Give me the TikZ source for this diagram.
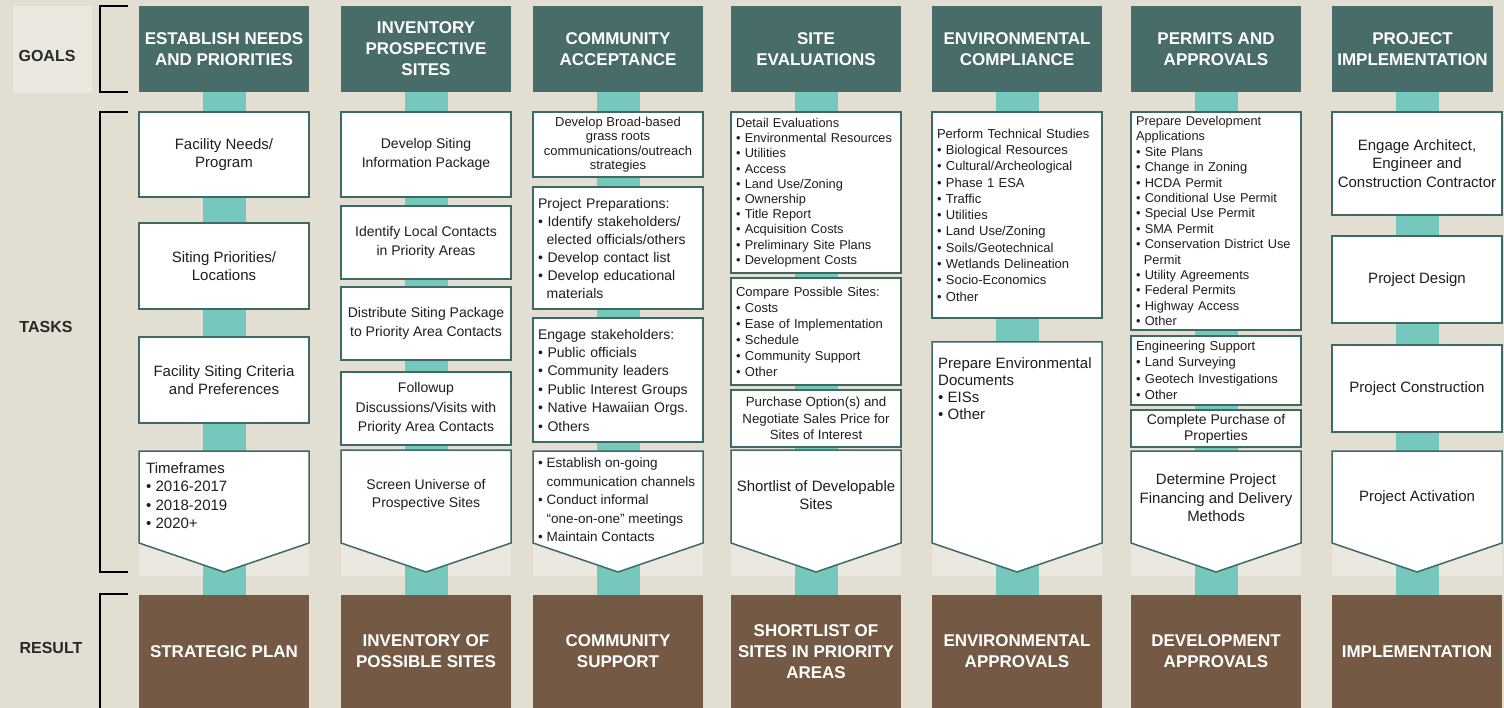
\documentclass[tikz,border=0pt]{standalone}
\usepackage{fontspec}
\setmainfont{Liberation Sans}
\usetikzlibrary{positioning}
\definecolor{goalteal}{RGB}{71,108,105}
\definecolor{boxline}{RGB}{62,106,102}
\definecolor{barteal}{RGB}{118,200,188}
\definecolor{resbrown}{RGB}{116,90,69}
\definecolor{bgbeige}{RGB}{226,222,210}
\definecolor{bglight}{RGB}{234,232,223}
\definecolor{labelgray}{RGB}{40,40,40}
\definecolor{inktext}{RGB}{30,30,30}
\newcommand{\bgap}{\hspace*{0.62em}}
\hyphenpenalty=10000
\exhyphenpenalty=10000
\pgfdeclarelayer{back}
\pgfdeclarelayer{bars}
\pgfsetlayers{back,bars,main}
\tikzset{
  goalbox/.style={fill=goalteal, text=white, minimum width=170pt, minimum height=86pt,
                  align=center, inner sep=2pt, font=\fontsize{17}{21}\selectfont\bfseries},
  resbox/.style={fill=resbrown, text=white, minimum width=170pt, minimum height=113pt,
                 align=center, inner sep=2pt, font=\fontsize{17}{21}\selectfont\bfseries},
  taskbox/.style={draw=boxline, line width=1.5pt, fill=white, minimum width=170pt,
                  align=center, inner xsep=5pt, inner ysep=2pt, text=inktext,
                  font=\fontsize{15}{18}\selectfont},
  listbox/.style={taskbox, align=left, text width=160pt, font=\fontsize{13}{15.4}\selectfont},
  chevbox/.style={draw=boxline, line width=1.5pt, fill=white},
  chevtext/.style={inner sep=0pt, text=inktext, font=\fontsize{15}{18.5}\selectfont},
  bar/.style={draw=barteal, line width=43pt},
  brack/.style={draw=black, line width=2pt},
  rowlabel/.style={font=\fontsize{16}{19}\selectfont\bfseries, text=labelgray},
}
\begin{document}
\begin{tikzpicture}[x=1pt, y=-1pt]
\useasboundingbox (0,0) rectangle (1504,708);

\begin{pgfonlayer}{back}
\fill[bgbeige] (0,0) rectangle (1504,708);
\fill[bglight] (13,6) rectangle (92,93);
\foreach \xl in {139,341,533,731,932,1131,1332}
  \fill[bglight] (\xl,540) rectangle ++(170,36);
\end{pgfonlayer}

% --- Row labels and brackets ---
\node[rowlabel] (lgoals) at (47,56) {GOALS};
\node[rowlabel] (ltasks) at (46,327) {TASKS};
\node[rowlabel] (lresult) at (51,648) {RESULT};
\draw[brack] (128,6) -- (100,6) -- (100,92) -- (128,92);
\draw[brack] (128,112) -- (100,112) -- (100,572) -- (128,572);
\draw[brack] (128,594) -- (100,594) -- (100,708);

% --- Goals ---
\node[goalbox] (goal1) at (224,49) {ESTABLISH NEEDS\\AND PRIORITIES};
\node[goalbox] (goal2) at (426,49) {INVENTORY\\PROSPECTIVE\\SITES};
\node[goalbox] (goal3) at (618,49) {COMMUNITY\\ACCEPTANCE};
\node[goalbox] (goal4) at (816,49) {SITE\\EVALUATIONS};
\node[goalbox] (goal5) at (1017,49) {ENVIRONMENTAL\\COMPLIANCE};
\node[goalbox] (goal6) at (1216,49) {PERMITS AND\\APPROVALS};
\node[goalbox, minimum width=161pt] (goal7) at (1412.5,49) {PROJECT\\IMPLEMENTATION};

% --- Results ---
\node[resbox] (res1) at (224,651.5) {STRATEGIC PLAN};
\node[resbox] (res2) at (426,651.5) {INVENTORY OF\\POSSIBLE SITES};
\node[resbox] (res3) at (618,651.5) {COMMUNITY\\SUPPORT};
\node[resbox] (res4) at (816,651.5) {SHORTLIST OF\\SITES IN PRIORITY\\AREAS};
\node[resbox] (res5) at (1017,651.5) {ENVIRONMENTAL\\APPROVALS};
\node[resbox] (res6) at (1216,651.5) {DEVELOPMENT\\APPROVALS};
\node[resbox] (res7) at (1417,651.5) {IMPLEMENTATION};

% --- Chevrons (last task of each column) ---
\foreach \xl/\yt in {139/451, 341/450, 533/451, 731/450, 932/342, 1131/451, 1332/451}
  \draw[chevbox] (\xl,\yt) -- (\xl+170,\yt) -- (\xl+170,543) -- (\xl+85,572) -- (\xl,543) -- cycle;

% --- Tasks: needs and priorities ---
\node[taskbox, minimum height=85pt] (t11) at (224,154.5) {Facility Needs/\\Program};
\node[taskbox, minimum height=86pt] (t12) at (224,266) {Siting Priorities/\\Locations};
\node[taskbox, minimum height=86pt] (t13) at (224,380) {Facility Siting Criteria\\and Preferences};
\node[chevtext, anchor=north west, align=left] (ch1) at (146,462)
    {Timeframes\\• 2016-2017\\• 2018-2019\\• 2020+};

% --- Tasks: prospective sites ---
\node[taskbox, minimum height=85pt, font=\fontsize{14}{18.5}\selectfont] (t21) at (426,154.5)
    {Develop Siting\\Information Package};
\node[taskbox, minimum height=73pt, font=\fontsize{14}{19}\selectfont] (t22) at (426,242.5)
    {Identify Local Contacts\\in Priority Areas};
\node[taskbox, minimum height=73pt, font=\fontsize{14}{19}\selectfont] (t23) at (426,323.5)
    {Distribute Siting Package\\to Priority Area Contacts};
\node[taskbox, minimum height=73pt, font=\fontsize{14}{19.5}\selectfont] (t24) at (426,408.5)
    {Followup\\Discussions/Visits with\\Priority Area Contacts};
\node[chevtext, align=center, font=\fontsize{14}{18}\selectfont] (ch2) at (426,495)
    {Screen Universe of\\Prospective Sites};

% --- Tasks: community acceptance ---
\node[taskbox, minimum height=65pt, font=\fontsize{13}{14.3}\selectfont] (t31) at (618,144.5)
    {Develop Broad-based\\grass roots\\communications/outreach\\strategies};
\node[listbox, minimum height=122pt, font=\fontsize{14}{18}\selectfont] (t32) at (618,248)
    {Project Preparations:\\• Identify stakeholders/\\\bgap elected officials/others\\• Develop contact list\\• Develop educational\\\bgap materials};
\node[listbox, minimum height=124pt, font=\fontsize{14}{18.4}\selectfont] (t33) at (618,380)
    {Engage stakeholders:\\• Public officials\\• Community leaders\\• Public Interest Groups\\• Native Hawaiian Orgs.\\• Others};
\node[chevtext, anchor=north west, align=left, font=\fontsize{13.5}{18.5}\selectfont] (ch3) at (538,458)
    {• Establish on-going\\\bgap communication channels\\• Conduct informal\\\bgap “one-on-one” meetings\\• Maintain Contacts};

% --- Tasks: site evaluations ---
\node[listbox, minimum height=161pt, font=\fontsize{12.8}{15.2}\selectfont] (t41) at (816,192.5)
    {Detail Evaluations\\• Environmental Resources\\• Utilities\\• Access\\• Land Use/Zoning\\• Ownership\\• Title Report\\• Acquisition Costs\\• Preliminary Site Plans\\• Development Costs};
\node[listbox, minimum height=107pt, font=\fontsize{13}{16}\selectfont] (t42) at (816,331.5)
    {Compare Possible Sites:\\• Costs\\• Ease of Implementation\\• Schedule\\• Community Support\\• Other};
\node[taskbox, minimum height=57pt, font=\fontsize{13.3}{16.5}\selectfont] (t43) at (816,418.5)
    {Purchase Option(s) and\\Negotiate Sales Price for\\Sites of Interest};
\node[chevtext, align=center, font=\fontsize{15}{18}\selectfont] (ch4) at (816,495)
    {Shortlist of Developable\\Sites};

% --- Tasks: environmental compliance ---
\node[listbox, minimum height=206pt, font=\fontsize{13}{16.3}\selectfont] (t51) at (1017,215)
    {Perform Technical Studies\\• Biological Resources\\• Cultural/Archeological\\• Phase 1 ESA\\• Traffic\\• Utilities\\• Land Use/Zoning\\• Soils/Geotechnical\\• Wetlands Delineation\\• Socio-Economics\\• Other};
\node[chevtext, anchor=north west, align=left, font=\fontsize{15}{17}\selectfont] (ch5) at (938,357)
    {Prepare Environmental\\Documents\\• EISs\\• Other};

% --- Tasks: permits and approvals ---
\node[listbox, minimum height=218pt, font=\fontsize{12.8}{15.4}\selectfont] (t61) at (1216,221)
    {Prepare Development\\Applications\\• Site Plans\\• Change in Zoning\\• HCDA Permit\\• Conditional Use Permit\\• Special Use Permit\\• SMA Permit\\• Conservation District Use\\\bgap Permit\\• Utility Agreements\\• Federal Permits\\• Highway Access\\• Other};
\node[listbox, minimum height=69pt, font=\fontsize{13}{16.3}\selectfont] (t62) at (1216,370.5)
    {Engineering Support\\• Land Surveying\\• Geotech Investigations\\• Other};
\node[taskbox, minimum height=37pt, inner ysep=1pt, font=\fontsize{14}{16}\selectfont] (t63) at (1216,428.5)
    {Complete Purchase of\\Properties};
\node[chevtext, align=center] (ch6) at (1216,498)
    {Determine Project\\Financing and Delivery\\Methods};

% --- Tasks: implementation ---
\node[taskbox, minimum height=103pt, font=\fontsize{15}{18.5}\selectfont] (t71) at (1417,163.5)
    {Engage Architect,\\Engineer and\\Construction Contractor};
\node[taskbox, minimum height=87pt] (t72) at (1417,279.5) {Project Design};
\node[taskbox, minimum height=87pt] (t73) at (1417,388.5) {Project Construction};
\node[chevtext] (ch7) at (1417,498) {Project Activation};

% --- Connecting bars behind the columns ---
\begin{pgfonlayer}{bars}
\foreach \i in {1,...,7}
  \draw[bar] (res\i.north) -- (res\i.north |- goal\i.south);
\end{pgfonlayer}

\end{tikzpicture}
\end{document}
